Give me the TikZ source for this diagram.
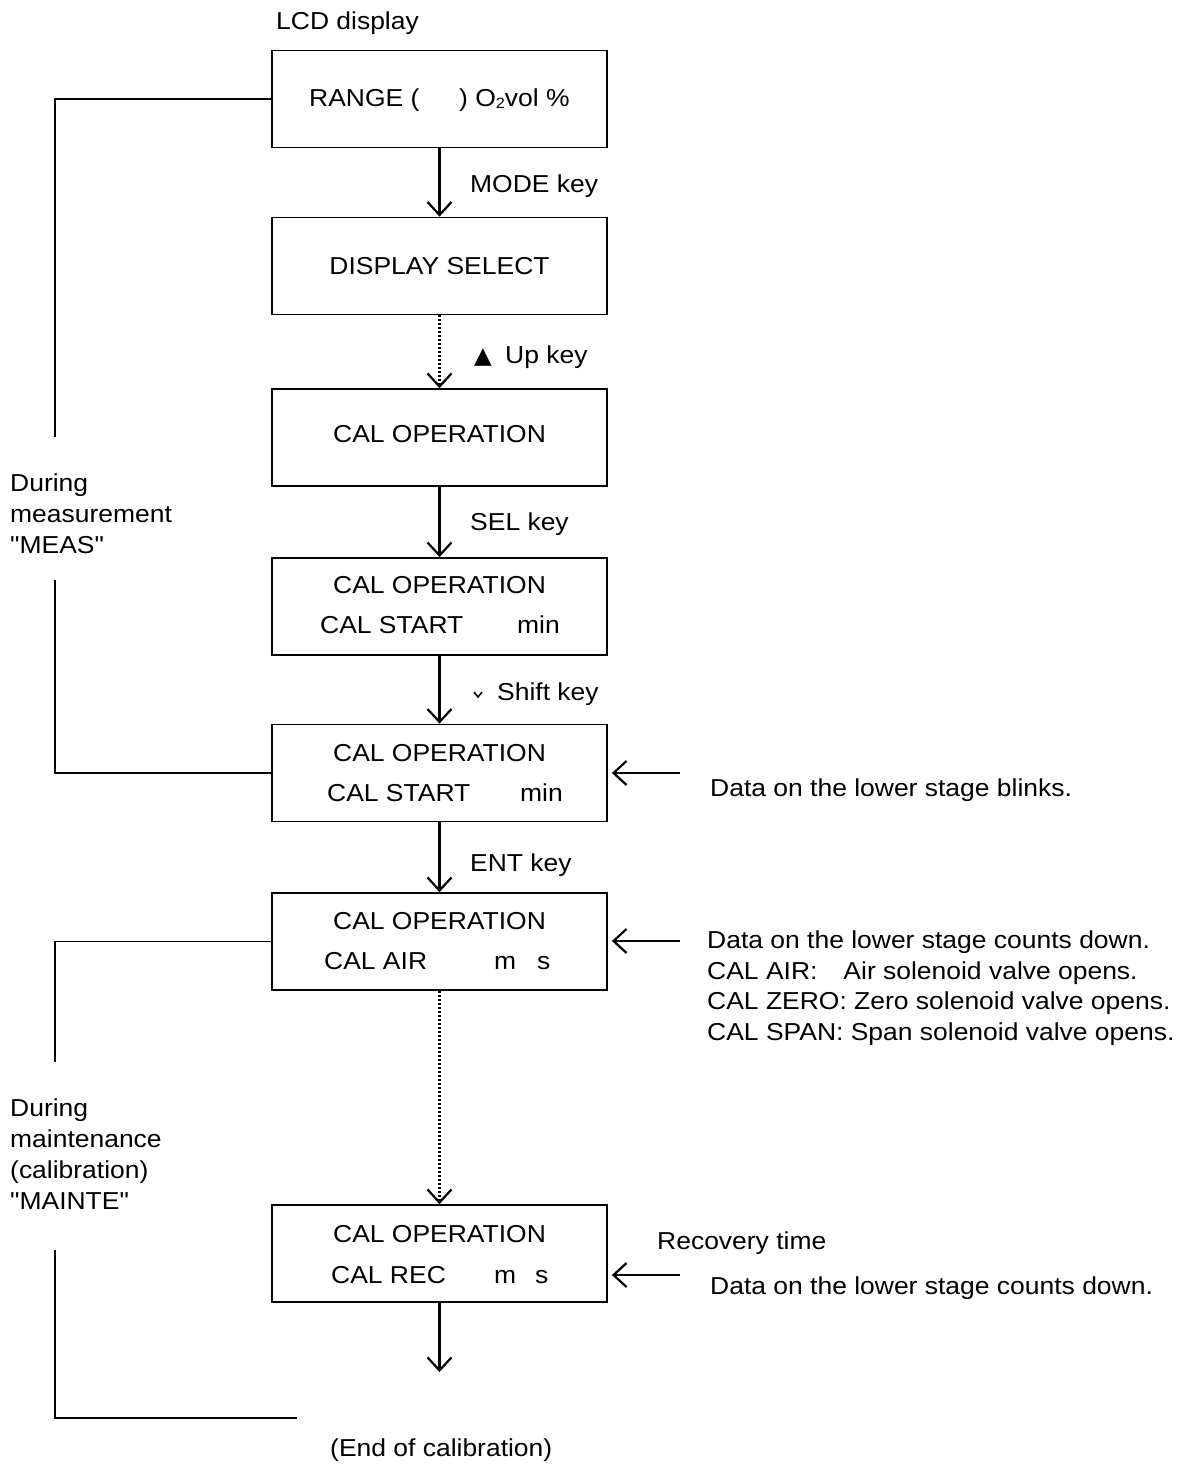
\documentclass[tikz,border=0pt]{standalone}
\usepackage{fontspec}
\setmainfont{Liberation Sans}[FakeStretch=1.08, Ligatures=TeXOff]
\newfontfamily\symfont{DejaVu Sans}
\usetikzlibrary{arrows.meta}
\begin{document}
\begin{tikzpicture}[x=1pt,y=-1pt]
\tikzset{
 txt/.style={inner sep=0pt, anchor=base west, font=\fontsize{24.5}{31}\selectfont, align=left},
 ctxt/.style={inner sep=0pt, anchor=base, font=\fontsize{24.5}{31}\selectfont},
 box/.style={draw, line width=1.8pt, minimum width=335pt, minimum height=97pt, inner sep=0pt},
 arr/.style={line width=2.2pt, -{Straight Barb[length=13pt,width=24pt,line width=2.2pt]}},
 dotarr/.style={arr, dash pattern=on 2pt off 2pt},
 brk/.style={line width=1.5pt}
}
\useasboundingbox (0,0) rectangle (1186,1470);

% boxes
\node[box] (b1) at (439.5,99) {};
\node[box] (b2) at (439.5,266) {};
\node[box] (b3) at (439.5,437.5) {};
\node[box] (b4) at (439.5,606.5) {};
\node[box] (b5) at (439.5,773) {};
\node[box] (b6) at (439.5,941.5) {};
\node[box] (b7) at (439.5,1253.5) {};

% header
\node[txt] (lcd) at (276,29) {LCD display};

% box texts
\node[txt] (t1a) at (309,106) {RANGE (};
\node[txt] (t1b) at (459,106) {) O{\fontsize{15}{15}\selectfont\raisebox{-2pt}{2}}vol \%};
\node[ctxt] (t2) at (439.5,274) {DISPLAY SELECT};
\node[ctxt] (t3) at (439.5,442) {CAL OPERATION};
\node[ctxt] (t4a) at (439.5,593) {CAL OPERATION};
\node[txt] (t4b) at (320,633) {CAL START};
\node[txt] (t4c) at (517,633) {min};
\node[ctxt] (t5a) at (439.5,761) {CAL OPERATION};
\node[txt] (t5b) at (327,801) {CAL START};
\node[txt] (t5c) at (520,801) {min};
\node[ctxt] (t6a) at (439.5,929) {CAL OPERATION};
\node[txt] (t6b) at (324,969) {CAL AIR};
\node[txt] (t6c) at (494,969) {m};
\node[txt] (t6d) at (537,969) {s};
\node[ctxt] (t7a) at (439.5,1242) {CAL OPERATION};
\node[txt] (t7b) at (331,1283) {CAL REC};
\node[txt] (t7c) at (494,1283) {m};
\node[txt] (t7d) at (535,1283) {s};

% key labels
\node[txt] (k1) at (470,192) {MODE key};
\node[txt,font=\symfont\fontsize{23}{23}\selectfont] (k2s) at (474,363) {▲};
\node[txt] (k2) at (505,363) {Up key};
\node[txt] (k3) at (470,530) {SEL key};
\draw[line width=1.5pt] (474,692) -- (478,697) -- (482,692);
\node[txt] (k4) at (497,700) {Shift key};
\node[txt] (k5) at (470,871) {ENT key};

% vertical arrows
\coordinate (endarr) at (439.5,1372);
\draw[arr] (b1.south) -- (b2.north);
\draw[dotarr] (b2.south) -- (b3.north);
\draw[arr] (b3.south) -- (b4.north);
\draw[arr] (b4.south) -- (b5.north);
\draw[arr] (b5.south) -- (b6.north);
\draw[dotarr] (b6.south) -- (b7.north);
\draw[arr] (b7.south) -- (endarr);

% left brackets
\coordinate (m1) at (55,437);
\coordinate (m2) at (55,580);
\coordinate (m3) at (55,1062);
\coordinate (m4) at (55,1250);
\coordinate (e1) at (297,1418);
\draw[brk] (m1) |- (b1.west);
\draw[brk] (m2) |- (b5.west);
\draw[brk] (m3) |- (b6.west);
\draw[brk] (m4) |- (e1);

\node[txt] (meas) at (10,553) {During\\measurement\\"MEAS"};
\node[txt] (maint) at (10,1209) {During\\maintenance\\(calibration)\\"MAINTE"};
\node[txt] (endcal) at (330,1456) {(End of calibration)};

% right arrows and notes
\coordinate (r1) at (680,773);
\coordinate (r2) at (680,941);
\coordinate (r3) at (680,1275);
\draw[arr,shorten >=4pt] (r1) -- (b5.east);
\draw[arr,shorten >=4pt] (r2) -- (r2 -| b6.east);
\draw[arr,shorten >=4pt] (r3) -- (r3 -| b7.east);

\node[txt] (n1) at (710,796) {Data on the lower stage blinks.};
\node[txt] (n2) at (707,1040) {Data on the lower stage counts down.\\[-0.5pt]CAL AIR:\hspace{26pt}Air solenoid valve opens.\\[-0.5pt]CAL ZERO: Zero solenoid valve opens.\\[-0.5pt]CAL SPAN: Span solenoid valve opens.};
\node[txt] (n3) at (657,1249) {Recovery time};
\node[txt] (n4) at (710,1294) {Data on the lower stage counts down.};
\end{tikzpicture}
\end{document}
